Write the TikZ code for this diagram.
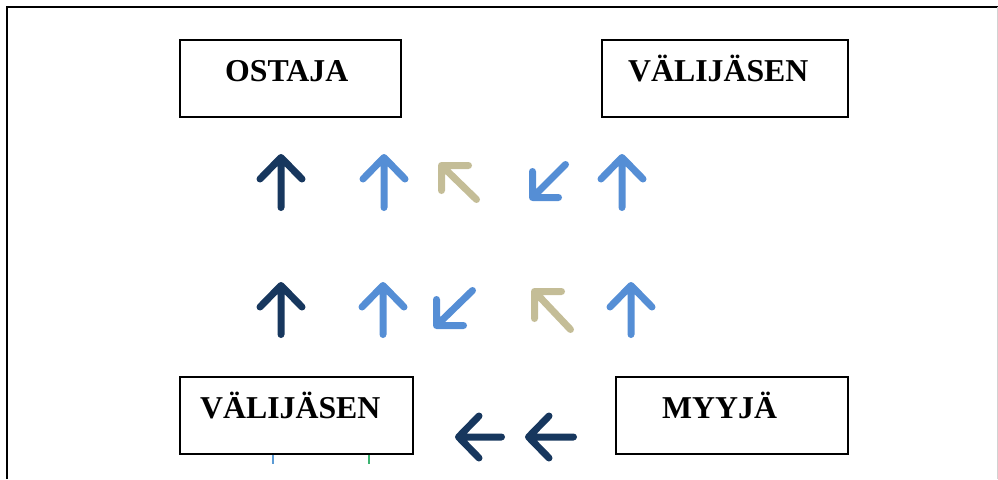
\documentclass[tikz,border=0pt]{standalone}
\usepackage{fontspec}
\setmainfont{Liberation Serif}
\definecolor{navy}{RGB}{23,55,94}
\definecolor{lblue}{RGB}{85,142,213}
\definecolor{tan}{RGB}{196,189,151}
\definecolor{tickblue}{RGB}{91,155,213}
\definecolor{tickgreen}{RGB}{60,179,113}
\begin{document}
\begin{tikzpicture}[x=1pt,y=-1pt,
  frame/.style={line width=2.3pt,black},
  box/.style={draw=black,line width=1.4pt,rectangle,inner sep=0pt},
  lbl/.style={anchor=base west,inner sep=0pt,font=\fontsize{31.8}{38}\selectfont\bfseries},
  arr/.style={line width=7pt,line cap=round,line join=round},
  tick/.style={line width=1.5pt}]
\useasboundingbox (0,0) rectangle (998,479);
% outer frame
\coordinate (fl) at (7,479);
\coordinate (ftl) at (7,7);
\coordinate (ftr) at (998,7);
\draw[frame] (fl) -- (ftl) -- (ftr);
\coordinate (rt) at (997.5,7);
\coordinate (rb) at (997.5,479);
\draw[gray!35,line width=1pt] (rt) -- (rb);
% boxes
\node[box,minimum width=221pt,minimum height=77pt] (ostajabox) at (290.5,78.5) {};
\node[box,minimum width=246pt,minimum height=77pt] (valibox1) at (725,78.5) {};
\node[box,minimum width=233pt,minimum height=77pt] (valibox2) at (296.5,415.5) {};
\node[box,minimum width=232pt,minimum height=77pt] (myyjabox) at (732,415.5) {};
% labels
\node[lbl] (ostaja) at (225,81) {OSTAJA};
\node[lbl] (vali1) at (628,81) {VÄLIJÄSEN};
\node[lbl] (vali2) at (200,418) {VÄLIJÄSEN};
\node[lbl] (myyja) at (662,418) {MYYJÄ};
% row 1 arrows
\draw[arr,navy] (281,207.5) -- (281,157.5) (260,179) -- (281,157.5) -- (302,179);
\draw[arr,lblue] (384,207.5) -- (384,157.5) (363,179) -- (384,157.5) -- (405,179);
\draw[arr,tan] (468.5,165.5) -- (441.5,165.5) -- (441.5,190.5) (441.5,165.5) -- (476.5,199.5);
\draw[arr,lblue] (532.5,171.5) -- (532.5,197.5) -- (558.5,197.5) (532.5,197.5) -- (565.5,164.5);
\draw[arr,lblue] (622,207.5) -- (622,157.5) (601,179) -- (622,157.5) -- (643,179);
% row 2 arrows
\draw[arr,navy] (281,334.5) -- (281,285.5) (260,307) -- (281,285.5) -- (302,307);
\draw[arr,lblue] (383,334.5) -- (383,285.5) (362,307) -- (383,285.5) -- (404,307);
\draw[arr,lblue] (436.5,299.5) -- (436.5,325.5) -- (463.5,325.5) (436.5,325.5) -- (472.5,290.5);
\draw[arr,tan] (561.5,291.5) -- (534.5,291.5) -- (534.5,318.5) (534.5,291.5) -- (570.5,329.5);
\draw[arr,lblue] (631,334.5) -- (631,285.5) (610,307) -- (631,285.5) -- (652,307);
% bottom arrows
\draw[arr,navy] (501.5,437) -- (458.5,437) (479,416) -- (458.5,437) -- (479,458);
\draw[arr,navy] (573.5,437) -- (528.5,437) (549,416) -- (528.5,437) -- (549,458);
% ticks below box
\coordinate (tb1) at (273,455);
\coordinate (tb2) at (273,464);
\coordinate (tg1) at (369,455);
\coordinate (tg2) at (369,464);
\draw[tick,tickblue] (tb1) -- (tb2);
\draw[tick,tickgreen] (tg1) -- (tg2);
\end{tikzpicture}
\end{document}
